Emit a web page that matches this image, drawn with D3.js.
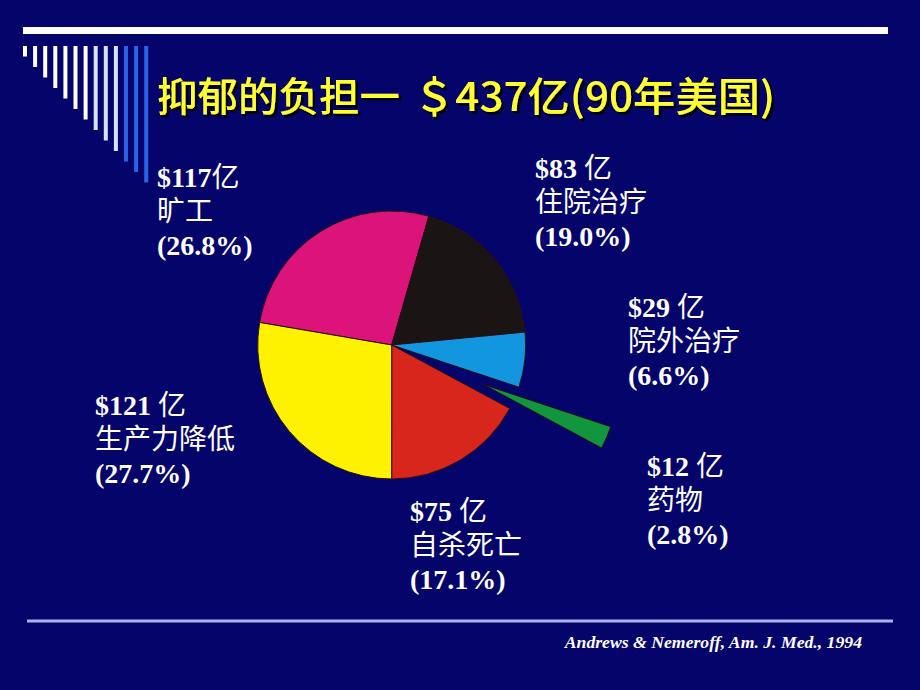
<!DOCTYPE html>
<html>
<head>
<meta charset="utf-8">
<script src="https://cdn.jsdelivr.net/npm/d3@7/dist/d3.min.js"></script>
<style>
  html, body { margin: 0; padding: 0; background: #04046A; }
  svg { display: block; }
</style>
</head>
<body>
<svg id="chart" width="920" height="690"></svg>
<script>
// ---- data ----
const categories = ["旷工", "住院治疗", "院外治疗", "药物", "自杀死亡", "生产力降低"];
const amounts    = [117, 83, 29, 12, 75, 121];          // 亿美元
const percents   = ["26.8%", "19.0%", "6.6%", "2.8%", "17.1%", "27.7%"];
const amountSep  = ["", " ", " ", " ", " ", " "];       // spacing before 亿 as printed
const colors     = ["#DB137B", "#1A1414", "#1296E0", "#11963F", "#D8261D", "#FFF200"];
const exploded   = [false, false, false, true, false, false];
const titleMain  = "抑郁的负担一";
const titleTotal = "＄437亿(90年美国)";
const citation   = "Andrews & Nemeroff, Am. J. Med., 1994";

// ---- layout ----
const W = 920, H = 690;
const cx = 391.7, cy = 345, R = 134, explodeBy = 100;
const labelPos = [
  {x: 157, y: 187}, {x: 535, y: 178}, {x: 628, y: 317},
  {x: 647, y: 476}, {x: 410, y: 521}, {x: 95,  y: 415}
];
const lineGap = 34;

const svg = d3.select("#chart");
const defs = svg.append("defs");
const f = defs.append("filter").attr("id", "shadow").attr("x", "-5%").attr("y", "-20%").attr("width", "110%").attr("height", "140%");
f.append("feDropShadow").attr("dx", 2.5).attr("dy", 2.5).attr("stdDeviation", 0.3)
  .attr("flood-color", "#000000").attr("flood-opacity", 1);

svg.append("rect").attr("width", W).attr("height", H).attr("fill", "#04046A");

// decoration: top rule and stepped bars
svg.append("rect").attr("x", 23).attr("y", 27).attr("width", 865).attr("height", 7).attr("fill", "#FFFFFF");
const barIdx = d3.range(13);
svg.selectAll("rect.deco").data(barIdx).join("rect")
  .attr("class", "deco")
  .attr("x", i => 23 + i * 10.1)
  .attr("y", 46)
  .attr("width", 4)
  .attr("height", i => 10.5 * (i + 1))
  .attr("fill", i => i < 7 ? "#FFFFEE" : (i < 10 ? "#D6E2FF" : "#2B63E6"));

// bottom rule
svg.append("rect").attr("x", 27).attr("y", 619.5).attr("width", 866).attr("height", 3).attr("fill", "#AEB2EE");

// title with shadow
const title = svg.append("text").attr("y", 111)
  .attr("font-family", "'Noto Sans CJK SC', sans-serif").attr("font-size", 40).attr("font-weight", 500)
  .attr("fill", "#FFFF33").attr("filter", "url(#shadow)");
title.append("tspan").attr("x", 157).attr("textLength", 243).attr("lengthAdjust", "spacingAndGlyphs").text(titleMain);
title.append("tspan").attr("x", 413).attr("textLength", 362).attr("lengthAdjust", "spacingAndGlyphs").text(titleTotal);

// pie
const pie = d3.pie().sort(null).value(d => d)
  .startAngle(-80.3 * Math.PI / 180)
  .endAngle(-80.3 * Math.PI / 180 + 2 * Math.PI);
const arc = d3.arc().innerRadius(0).outerRadius(R);
const arcs = pie(amounts);

svg.append("g").attr("transform", `translate(${cx},${cy})`)
  .selectAll("path").data(arcs).join("path")
  .attr("d", arc)
  .attr("transform", (d, i) => {
    if (!exploded[i]) return null;
    const m = (d.startAngle + d.endAngle) / 2;
    return `translate(${Math.sin(m) * explodeBy},${-Math.cos(m) * explodeBy})`;
  })
  .attr("fill", (d, i) => colors[i])
  .attr("stroke", "#2a0f12")
  .attr("stroke-width", 1)
  .attr("stroke-linejoin", "round");

// labels (one text block each, three lines)
const latin = "'Liberation Serif', 'Times New Roman', serif";
const cjk = "'Noto Sans CJK SC', sans-serif";
categories.forEach((cat, i) => {
  const p = labelPos[i];
  const t = svg.append("text").attr("fill", "#FFFFFF").attr("font-size", 28);
  t.append("tspan").attr("x", p.x).attr("y", p.y)
    .attr("font-family", latin).attr("font-weight", "bold").text("$" + amounts[i] + amountSep[i]);
  t.append("tspan").attr("font-family", cjk).text("亿");
  t.append("tspan").attr("x", p.x).attr("y", p.y + lineGap).attr("font-family", cjk).text(cat);
  t.append("tspan").attr("x", p.x).attr("y", p.y + 2 * lineGap)
    .attr("font-family", latin).attr("font-weight", "bold").text("(" + percents[i] + ")");
});

// citation
svg.append("text").attr("x", 862).attr("y", 648).attr("text-anchor", "end")
  .attr("font-family", latin).attr("font-style", "italic").attr("font-weight", "bold")
  .attr("font-size", 17.7).attr("fill", "#FFFFFF").text(citation);
</script>
</body>
</html>
